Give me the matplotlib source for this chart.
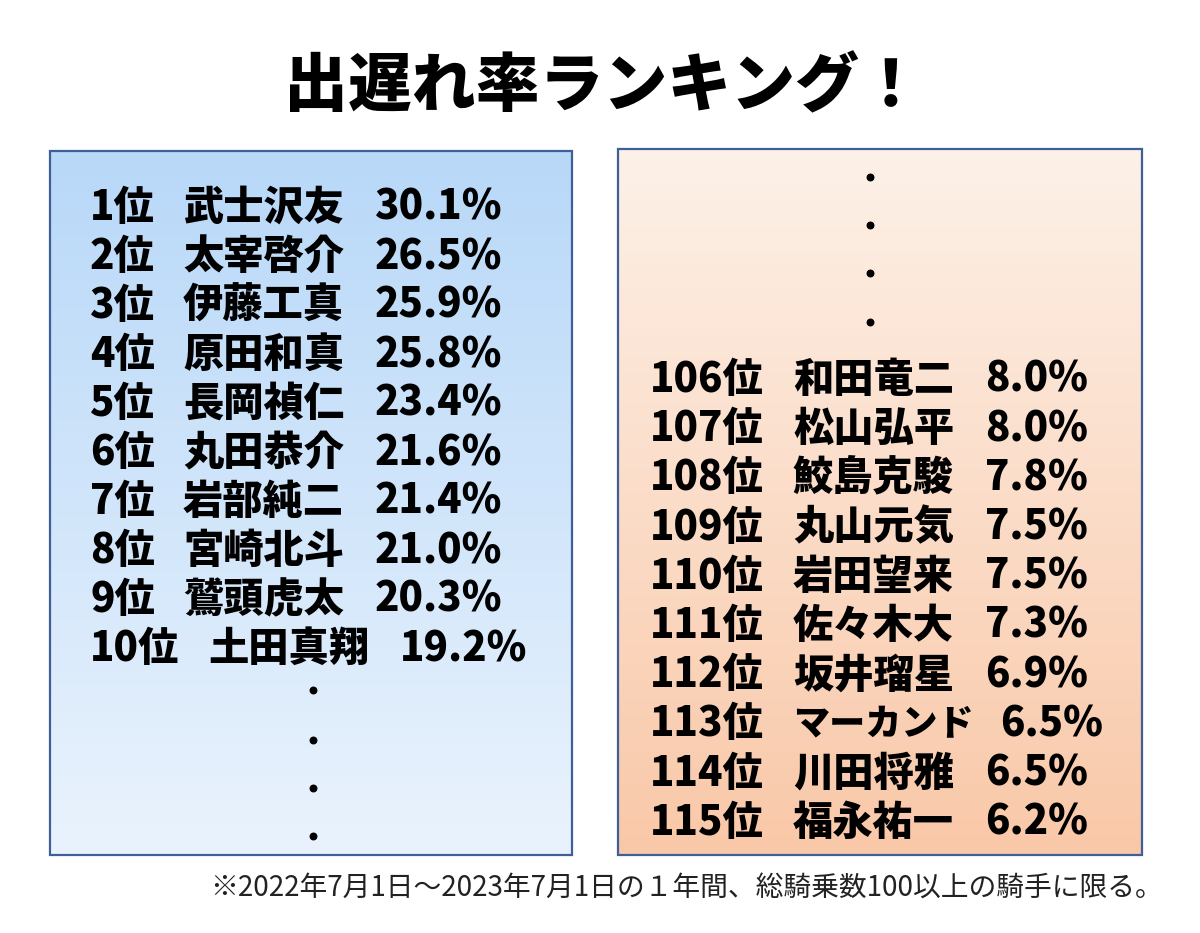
import numpy as np
import matplotlib.pyplot as plt
from matplotlib.patches import Rectangle

plt.rcParams['font.family'] = ['Noto Sans CJK JP', 'DejaVu Sans']

title = '出遅れ率ランキング！'
note = '※2022年7月1日～2023年7月1日の１年間、総騎乗数100以上の騎手に限る。'

top_ranks = [1, 2, 3, 4, 5, 6, 7, 8, 9, 10]
top_names = ['武士沢友', '太宰啓介', '伊藤工真', '原田和真', '長岡禎仁',
             '丸田恭介', '岩部純二', '宮崎北斗', '鷲頭虎太', '土田真翔']
top_rates = [30.1, 26.5, 25.9, 25.8, 23.4, 21.6, 21.4, 21.0, 20.3, 19.2]

low_ranks = [106, 107, 108, 109, 110, 111, 112, 113, 114, 115]
low_names = ['和田竜二', '松山弘平', '鮫島克駿', '丸山元気', '岩田望来',
             '佐々木大', '坂井瑠星', 'マーカンド', '川田将雅', '福永祐一']
low_rates = [8.0, 8.0, 7.8, 7.5, 7.5, 7.3, 6.9, 6.5, 6.5, 6.2]


def gradient_box(ax, x0, y0, x1, y1, c_top, c_bot):
    c_top = np.array(c_top) / 255.0
    c_bot = np.array(c_bot) / 255.0
    t = np.linspace(0, 1, 256)[:, None]
    img = (c_top[None, :] * (1 - t) + c_bot[None, :] * t)[:, None, :]
    ax.imshow(img, extent=(x0, x1, y1, y0), aspect='auto', zorder=1,
              interpolation='bilinear')
    ax.add_patch(Rectangle((x0, y0), x1 - x0, y1 - y0, fill=False,
                           edgecolor='#3f5f9a', linewidth=1.6, zorder=2))


def draw_rows(ax, ranks, names, rates, x_rank, x_name, x_rate, y0, dy):
    for i, (r, n, v) in enumerate(zip(ranks, names, rates)):
        y = y0 + i * dy
        label = '%d位' % r
        # wider rank label / longer name shift the next columns a bit
        shift = 25 if len(str(r)) == 2 and r < 100 else 0
        extra = 15 if len(n) > 4 else 0
        kw = dict(fontsize=29, fontweight='heavy', va='center', ha='left',
                  color='black', zorder=3)
        ax.text(x_rank, y, label, **kw)
        if len(n) > 4:
            ax.text(x_name + shift, y, n, fontsize=26, fontweight='heavy',
                    va='center', ha='left', color='black', zorder=3)
        else:
            ax.text(x_name + shift, y, n, **kw)
        ax.text(x_rate + shift + extra, y, '%.1f%%' % v, **kw)


fig = plt.figure(figsize=(12, 9.33), dpi=100)
ax = fig.add_axes([0, 0, 1, 1])
ax.set_xlim(0, 1200)
ax.set_ylim(933, 0)
ax.axis('off')

ax.text(603, 88, title, fontsize=46, fontweight='heavy', ha='center',
        va='center', color='black')

gradient_box(ax, 50, 151, 572, 855, (184, 216, 248), (234, 243, 253))
gradient_box(ax, 618, 149, 1142, 855, (253, 241, 232), (249, 200, 168))

draw_rows(ax, top_ranks, top_names, top_rates, 90, 183, 375, 208, 49)
draw_rows(ax, low_ranks, low_names, low_rates, 650, 793, 985, 380, 49.2)

dot_y_left = [690, 740, 788, 836]
dot_y_right = [177, 225, 273, 322]
ax.scatter([313] * len(dot_y_left), dot_y_left, s=22, color='black', zorder=3)
ax.scatter([870] * len(dot_y_right), dot_y_right, s=22, color='black', zorder=3)

ax.text(1163, 888, note, fontsize=20, ha='right', va='center', color='#222222')

fig.savefig('out.png', dpi=100)
